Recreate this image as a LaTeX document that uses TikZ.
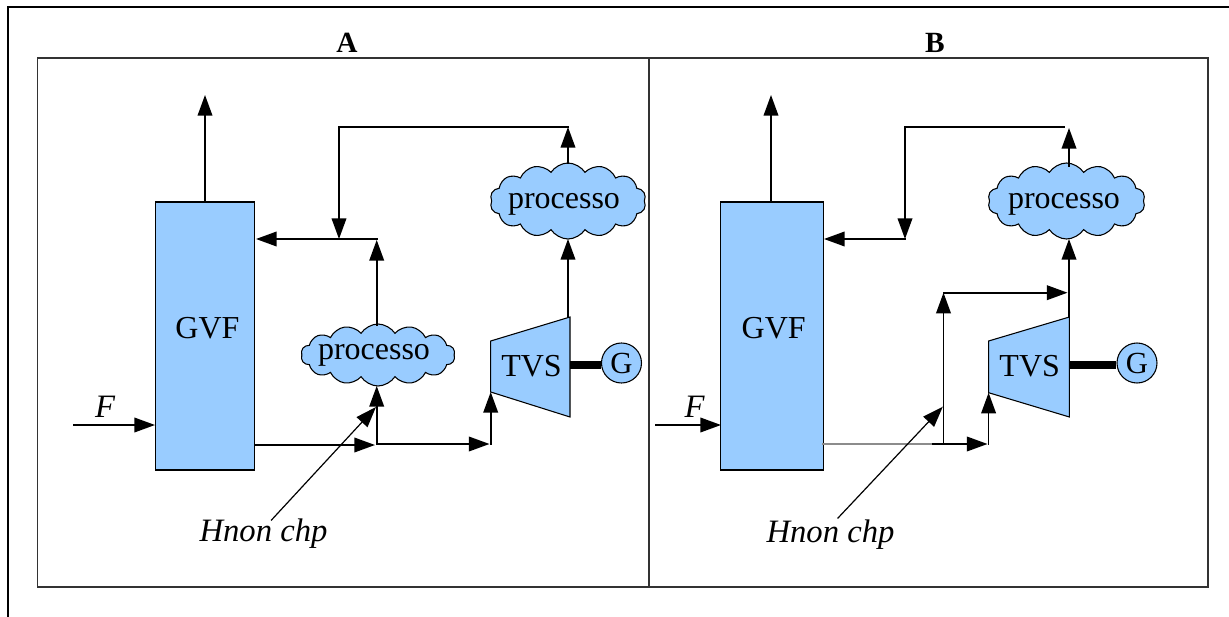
\documentclass[tikz,border=0pt]{standalone}
\usepackage{fontspec}
\setmainfont{Liberation Serif}
\usetikzlibrary{arrows.meta,shapes.symbols}
\definecolor{unitblue}{HTML}{99CCFF}
\tikzset{
  frameline/.style={line width=1.1pt, draw=black!80},
  flow/.style={line width=1.2pt, line cap=rect, -{Triangle[length=15.5pt,width=11pt]}},
  plainflow/.style={line width=1.2pt, line cap=rect},
  unitbox/.style={draw, line width=1pt, fill=unitblue, minimum width=74.5pt, minimum height=201pt, inner sep=0pt},
  unittext/.style={font=\fontsize{24}{26}\selectfont, inner sep=0pt},
  cloudbox/.style={cloud, cloud puffs=14, cloud puff arc=115, cloud ignores aspect, draw, line width=.8pt, fill=unitblue, inner sep=0pt},
  cloudtext/.style={font=\fontsize{24}{26}\selectfont, inner sep=0pt},
  turbine/.style={fill=unitblue, draw, line width=.8pt},
  gencircle/.style={circle, draw, line width=.8pt, fill=unitblue, minimum size=30pt, inner sep=0pt, font=\fontsize{23}{25}\selectfont},
  flowlabel/.style={font=\itshape\fontsize{24.5}{26}\selectfont, inner sep=0pt},
  paneltitle/.style={font=\bfseries\fontsize{22}{24}\selectfont, inner sep=0pt}
}
\begin{document}
\begin{tikzpicture}[x=0.75pt,y=-0.75pt]
  \useasboundingbox (0,0) rectangle (1229,617);
  % frames
  \coordinate (outerTL) at (8,7);
  \draw[frameline, draw=black] (8,617) -- (outerTL) -- (1229,7);
  \draw[frameline] (37.5,58) rectangle (1208,587);
  \draw[frameline] (649,58) -- (649,587);
  \node[paneltitle] (titleA) at (347,43) {A};
  \node[paneltitle] (titleB) at (935,43) {B};

  % panel A
  \node[unitbox] (gvfA) at (205,336) {};
  \node[unittext] (gvfAtext) at (207.5,328) {GVF};
  \coordinate (stackA) at (205,95);
  \draw[flow] (gvfA.north) -- (stackA);
  \node[cloudbox, minimum width=117pt, minimum height=57pt] (procAtop) at (568,201) {};
  \node[cloudtext] (procAtoptext) at (564,204) {processo};
  \node[cloudbox, minimum width=115.5pt, minimum height=46.5pt] (procAlow) at (378,355) {};
  \node[cloudtext] (procAlowtext) at (374,355) {processo};
  \coordinate (tvsAtl) at (490.7,341);
  \coordinate (tvsAbl) at (490.7,392);
  \coordinate (tvsAtr) at (570,317);
  \coordinate (tvsAbr) at (570,417);
  \filldraw[turbine] (tvsAtl) -- (tvsAtr) -- (tvsAbr) -- (tvsAbl) -- cycle;
  \node[unittext] (tvsAtext) at (531.5,366) {TVS};
  \node[gencircle] (genA) at (621.5,363) {G};
  \coordinate (shaftA) at (570,365);
  \draw[line width=6pt] (shaftA) -- (shaftA -| genA.west);
  \coordinate (retAa) at (568,127);
  \coordinate (retAb) at (339,127);
  \coordinate (retAc) at (339,239);
  \coordinate (retAd) at (376.7,239);
  \coordinate (inAa) at (73.5,425);
  \coordinate (inAb) at (155,425);
  \coordinate (outAa) at (255,445);
  \coordinate (outAb) at (376.7,444);
  \coordinate (outAc) at (490.7,444);
  \draw[flow] (568,317) -- (568,239);
  \draw[flow] (568,163) -- (retAa);
  \draw[plainflow] (retAa) -- (retAb);
  \draw[flow] (retAb) -- (retAc);
  \draw[flow] (retAd) -- (256,239);
  \draw[flow] (376.7,325) -- (376.7,240);
  \draw[flow] (outAb) -- (376.7,386);
  \draw[flow] (inAa) -- (inAb);
  \draw[flow] (outAa) -- (375,445);
  \draw[flow] (outAb) -- (489.5,444);
  \draw[flow] (outAc) -- (tvsAbl);
  \node[flowlabel] (fuelA) at (105,407) {F};
  \node[flowlabel] (hnonA) at (263.5,534) {Hnon chp};
  \coordinate (hnonAs) at (271.5,520);
  \draw[flow, line width=.9pt] (hnonAs) -- (376,407);

  % panel B
  \node[unitbox, minimum width=77pt] (gvfB) at (772,336) {};
  \node[unittext] (gvfBtext) at (773.7,328) {GVF};
  \coordinate (stackB) at (771,95);
  \draw[flow] (771,202) -- (stackB);
  \node[cloudbox, minimum width=118pt, minimum height=57pt] (procB) at (1066.5,201) {};
  \node[cloudtext] (procBtext) at (1064,204) {processo};
  \coordinate (tvsBtl) at (988.6,341);
  \coordinate (tvsBbl) at (988.6,392.7);
  \coordinate (tvsBtr) at (1069.4,317);
  \coordinate (tvsBbr) at (1069.4,417);
  \filldraw[turbine] (tvsBtl) -- (tvsBtr) -- (tvsBbr) -- (tvsBbl) -- cycle;
  \node[unittext] (tvsBtext) at (1029.7,366) {TVS};
  \node[gencircle] (genB) at (1137,363) {G};
  \coordinate (shaftB) at (1069,365);
  \draw[line width=6pt] (shaftB) -- (shaftB -| genB.west);
  \coordinate (retBa) at (1064.5,127);
  \coordinate (retBb) at (905,127);
  \coordinate (retBc) at (905,239);
  \coordinate (inBa) at (655.8,425);
  \coordinate (inBb) at (721,425);
  \coordinate (outBa) at (823,444);
  \coordinate (outBb) at (933,444);
  \coordinate (outBc) at (943.5,444);
  \coordinate (outBd) at (988.6,444);
  \coordinate (bypBa) at (943.5,292.7);
  \draw[flow] (1069,317) -- (1069,239);
  \draw[flow] (1069,166) -- (1069,128);
  \draw[plainflow] (retBa) -- (retBb);
  \draw[flow] (retBb) -- (retBc);
  \draw[flow] (retBc) -- (824,239);
  \draw[flow] (inBa) -- (inBb);
  \draw[plainflow, draw=black!45] (outBa) -- (outBb);
  \draw[flow] (outBb) -- (987.5,444);
  \draw[flow] (outBd) -- (tvsBbl);
  \draw[flow] (outBc) -- (bypBa);
  \draw[flow] (bypBa) -- (1067.5,292.7);
  \node[flowlabel] (fuelB) at (694.5,407) {F};
  \node[flowlabel] (hnonB) at (830.5,535) {Hnon chp};
  \coordinate (hnonBs) at (838,518);
  \draw[flow, line width=.9pt] (hnonBs) -- (942.8,406.7);
\end{tikzpicture}
\end{document}
